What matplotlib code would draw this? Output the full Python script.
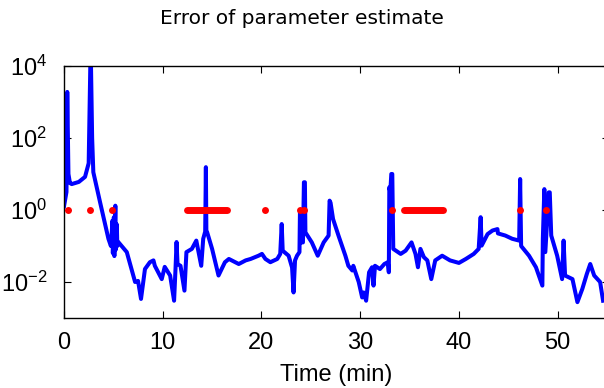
import numpy as np
import matplotlib
matplotlib.use('Agg')
import matplotlib.pyplot as plt
from matplotlib.ticker import NullLocator

# ─── DATA ───────────────────────────────────────────────────────────────────
# blue trace: time (min) and log10 of the estimate error
t_min = [0.0, 0.25, 0.33, 0.45, 0.6, 0.78, 1.5, 2.13, 2.5, 2.7, 2.85, 2.97,
         3.65, 4.5, 4.75, 4.8, 4.9, 4.95, 5.05, 5.1, 5.2, 5.25, 5.35, 5.4,
         5.5, 6.36, 7.2, 7.5, 7.8, 8.2, 8.7, 9.06, 9.2, 9.9, 10.2, 10.75,
         11.15, 11.3, 11.4, 11.5, 11.8, 12.2, 12.4, 12.95, 13.4, 13.9, 14.1,
         14.3, 14.37, 14.42, 14.5, 15.0, 15.65, 16.3, 16.7, 17.7, 18.4, 18.9,
         19.7, 20.05, 20.4, 20.9, 21.6, 21.9, 22.05, 22.15, 22.75, 23.1,
         23.25, 23.4, 23.6, 23.85, 23.9, 23.95, 24.0, 24.2, 24.3, 24.4,
         24.45, 25.1, 25.7, 26.3, 26.8, 26.9, 27.0, 27.25, 27.8, 28.5, 28.8,
         29.2, 29.3, 29.85, 30.2, 30.35, 30.6, 30.9, 31.2, 31.35, 31.5, 32.0,
         32.45, 32.8, 32.9, 32.95, 33.05, 33.15, 33.25, 33.35, 34.1, 34.6,
         35.2, 35.6, 35.85, 36.1, 36.45, 36.8, 37.2, 37.6, 38.3, 39.1, 40.0,
         40.7, 41.5, 42.0, 42.2, 42.3, 42.9, 43.4, 43.9, 43.95, 44.7, 45.4,
         46.1, 46.2, 46.3, 47.1, 47.8, 48.45, 48.5, 48.65, 48.75, 49.1, 49.2,
         49.35, 49.95, 50.45, 50.6, 50.75, 51.5, 52.0, 52.5, 52.95, 53.3,
         53.7, 54.3, 54.6]
err_log10 = [0.1, 0.5, 3.28, 1.0, 0.75, 0.72, 0.78, 0.92, 1.3, 4.6, 2.0, 1.05,
             0.22, -0.8, -1.0, -0.85, -0.3, -1.2, -0.2, -1.28, 0.12, -1.1,
             -0.4, -1.0, -0.89, -1.17, -2.0, -1.97, -2.47, -1.64, -1.45, -1.4,
             -1.55, -1.92, -1.58, -1.82, -2.52, -1.6, -0.89, -1.5, -1.55,
             -2.24, -1.17, -1.08, -0.85, -1.55, -0.8, -0.6, 1.19, -0.6, -0.62,
             -1.08, -1.82, -1.45, -1.36, -1.5, -1.4, -1.36, -1.27, -1.22,
             -1.36, -1.45, -1.36, -1.22, -0.39, -1.13, -1.27, -1.6, -2.29,
             -1.4, -1.27, -1.17, -0.02, -0.02, -0.9, -0.9, 0.77, 0.77, -0.62,
             -0.9, -1.27, -0.9, -0.71, 0.26, 0.2, -0.25, -0.71, -1.27, -1.55,
             -1.68, -1.55, -2.0, -2.43, -2.29, -2.52, -1.73, -1.59, -2.1,
             -1.55, -1.64, -1.5, -1.45, -1.73, 0.63, 0.5, 1.0, 1.0, -1.08,
             -1.22, -1.13, -0.9, -1.22, -1.59, -1.08, -1.31, -1.4, -1.92, -1.4,
             -1.27, -1.4, -1.47, -1.36, -1.22, -1.08, -0.2, -0.99, -0.67,
             -0.57, -0.53, -0.65, -0.71, -0.8, -0.85, 0.86, -1.0, -1.27, -1.59,
             -2.1, -0.8, 0.58, -1.17, 0.49, 0.49, -0.71, -1.27, -1.92, -0.85,
             -1.82, -1.92, -2.56, -2.19, -1.78, -1.5, -1.82, -2.0, -2.52]

# red markers at error = 1: isolated samples and dense runs (start, end)
red_dots = [0.4, 2.6, 4.9, 20.4, 23.9, 24.3, 33.2, 46.2, 48.8]
red_runs = [(12.5, 16.5), (34.4, 38.4)]

err = 10.0 ** np.array(err_log10)

# ─── FIGURE ─────────────────────────────────────────────────────────────────
fig = plt.figure(figsize=(6.04, 3.88), dpi=100)
ax = fig.add_axes([64 / 604, 70 / 388, 545 / 604, 252 / 388])

ax.plot(t_min, err, color='#0000ff', linewidth=2.9, solid_joinstyle='round', zorder=2)
for start, end in red_runs:
    ax.plot([start, end], [1, 1], color='#ff0000', linewidth=5,
            solid_capstyle='round', zorder=3)
ax.plot(red_dots, np.ones(len(red_dots)), 'o', color='#ff0000',
        markersize=5, markeredgewidth=0, zorder=3)

ax.set_yscale('log')
ax.set_xlim(0, 55.2)
ax.set_ylim(1e-3, 1e4)
ax.set_yticks([1e-2, 1e0, 1e2, 1e4])
ax.yaxis.set_minor_locator(NullLocator())
ax.set_xticks([0, 10, 20, 30, 40, 50])

ax.tick_params(direction='in', top=True, right=True, length=5, width=0.8,
               labelsize=17)
ax.tick_params(axis='x', pad=10)
ax.tick_params(axis='y', pad=12)
for lab in ax.get_xticklabels() + ax.get_yticklabels():
    lab.set_fontfamily('Liberation Sans')

for sp in ax.spines.values():
    sp.set_linewidth(1.0)

ax.set_xlabel('Time (min)', fontsize=17, family='Liberation Sans', labelpad=7)
fig.text(0.5, 1 - 18 / 388, 'Error of parameter estimate', ha='center',
         va='center', fontsize=14.5, family='DejaVu Sans')

fig.savefig('out.png', dpi=100)
